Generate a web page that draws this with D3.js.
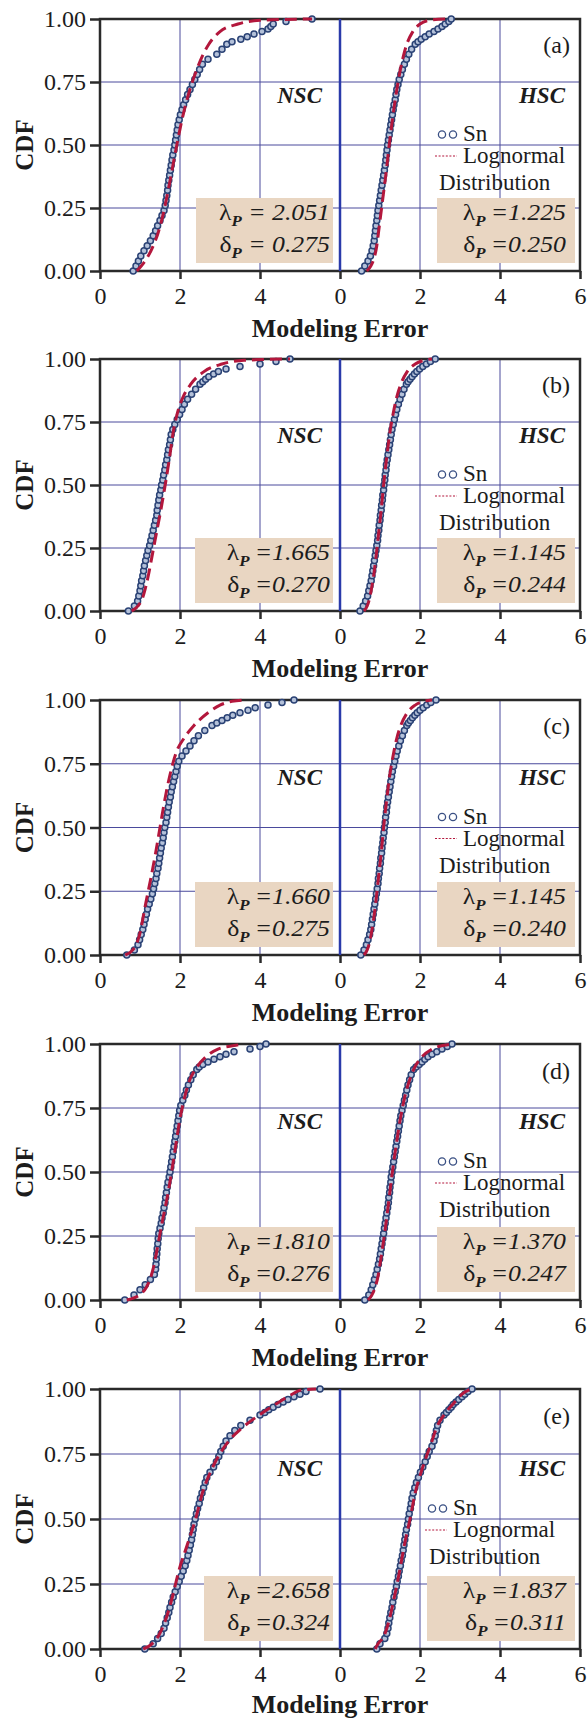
<!DOCTYPE html>
<html><head><meta charset="utf-8">
<script src="https://cdn.jsdelivr.net/npm/d3@7"></script>
<style>body{margin:0;background:#fff} svg{display:block}</style>
</head><body><svg id="c" width="588" height="1719"></svg>
<script>
// ---------------- data ----------------
const panelIds = ["a","b","c","d","e"];
const lambdaNSC = ["2.051","1.665","1.660","1.810","2.658"];
const deltaNSC  = ["0.275","0.270","0.275","0.276","0.324"];
const lambdaHSC = ["1.225","1.145","1.145","1.370","1.837"];
const deltaHSC  = ["0.250","0.244","0.240","0.247","0.311"];
const yTicks = [0, 0.25, 0.5, 0.75, 1];
const xTicksNSC = [0, 2, 4];
const xTicksHSC = [0, 2, 4, 6];

const cdfLevels = [0,0.02,0.04,0.06,0.08,0.10,0.12,0.14,0.16,0.18,0.20,0.22,0.24,0.26,0.28,0.30,0.32,0.34,0.36,0.38,0.40,0.42,0.44,0.46,0.48,0.50,0.52,0.54,0.56,0.58,0.60,0.62,0.64,0.66,0.68,0.70,0.72,0.74,0.76,0.78,0.80,0.82,0.84,0.86,0.88,0.90,0.91,0.92,0.93,0.94,0.95,0.96,0.97,0.98,0.99,1.00];

const snA_NSC = [0.83,0.90,0.96,1.02,1.10,1.18,1.26,1.33,1.39,1.44,1.50,1.55,1.60,1.63,1.65,1.67,1.69,1.70,1.72,1.74,1.76,1.78,1.80,1.82,1.85,1.87,1.89,1.91,1.93,1.95,1.98,2.01,2.05,2.09,2.14,2.19,2.25,2.31,2.37,2.43,2.49,2.56,2.70,2.92,3.05,3.17,3.30,3.52,3.68,3.85,4.05,4.20,4.27,4.33,4.65,5.30];
const snA_HSC = [0.54,0.62,0.70,0.76,0.80,0.83,0.855,0.87,0.885,0.90,0.92,0.935,0.95,0.97,0.99,1.01,1.03,1.05,1.07,1.09,1.11,1.13,1.145,1.16,1.175,1.19,1.21,1.23,1.25,1.27,1.29,1.31,1.33,1.35,1.38,1.40,1.42,1.45,1.48,1.52,1.56,1.61,1.66,1.72,1.79,1.88,1.95,2.03,2.13,2.23,2.35,2.45,2.55,2.63,2.72,2.78];
const snB_NSC = [0.71,0.86,0.94,0.97,1.00,1.02,1.04,1.07,1.09,1.11,1.14,1.17,1.20,1.24,1.27,1.30,1.33,1.36,1.39,1.42,1.43,1.45,1.47,1.49,1.52,1.54,1.57,1.59,1.62,1.64,1.67,1.69,1.71,1.74,1.76,1.78,1.82,1.87,1.93,1.99,2.05,2.11,2.19,2.29,2.39,2.50,2.57,2.64,2.72,2.84,2.96,3.15,3.50,4.00,4.40,4.75];
const snB_HSC = [0.50,0.58,0.64,0.69,0.72,0.75,0.78,0.80,0.82,0.84,0.86,0.88,0.90,0.92,0.94,0.95,0.97,0.98,1.00,1.01,1.03,1.04,1.06,1.07,1.09,1.10,1.12,1.13,1.15,1.16,1.18,1.20,1.22,1.24,1.26,1.28,1.30,1.33,1.36,1.39,1.42,1.46,1.50,1.55,1.60,1.66,1.70,1.75,1.80,1.86,1.92,1.99,2.07,2.16,2.26,2.38];
const snC_NSC = [0.67,0.86,0.95,0.99,1.03,1.07,1.10,1.13,1.16,1.19,1.23,1.27,1.31,1.34,1.37,1.40,1.42,1.45,1.47,1.49,1.51,1.53,1.56,1.58,1.60,1.62,1.65,1.67,1.69,1.71,1.73,1.76,1.78,1.81,1.84,1.87,1.90,1.93,1.97,2.05,2.15,2.25,2.35,2.46,2.62,2.80,2.92,3.05,3.18,3.32,3.50,3.70,3.88,4.20,4.55,4.85];
const snC_HSC = [0.52,0.60,0.66,0.70,0.74,0.77,0.79,0.81,0.83,0.85,0.87,0.89,0.91,0.93,0.95,0.96,0.98,0.99,1.01,1.02,1.04,1.05,1.07,1.08,1.10,1.11,1.13,1.14,1.16,1.17,1.19,1.21,1.23,1.25,1.27,1.29,1.31,1.34,1.37,1.40,1.43,1.47,1.51,1.56,1.61,1.67,1.71,1.76,1.81,1.87,1.93,2.00,2.08,2.17,2.27,2.40];
const snD_NSC = [0.62,0.85,1.00,1.13,1.26,1.36,1.39,1.40,1.41,1.42,1.43,1.445,1.455,1.47,1.50,1.53,1.55,1.58,1.60,1.625,1.64,1.66,1.68,1.70,1.73,1.75,1.77,1.79,1.81,1.83,1.85,1.87,1.89,1.91,1.93,1.95,1.97,1.99,2.02,2.07,2.12,2.16,2.21,2.27,2.33,2.42,2.48,2.57,2.70,2.85,3.00,3.15,3.35,3.75,4.00,4.15];
const snD_HSC = [0.62,0.72,0.78,0.82,0.86,0.90,0.93,0.96,0.99,1.01,1.03,1.05,1.07,1.09,1.11,1.13,1.15,1.17,1.19,1.21,1.22,1.24,1.25,1.27,1.28,1.30,1.32,1.34,1.36,1.38,1.40,1.42,1.44,1.46,1.48,1.50,1.52,1.55,1.58,1.61,1.64,1.67,1.70,1.74,1.78,1.84,1.90,1.98,2.05,2.12,2.20,2.30,2.42,2.55,2.68,2.80];
const snE_NSC = [1.12,1.33,1.44,1.53,1.60,1.64,1.68,1.72,1.75,1.79,1.83,1.88,1.93,1.98,2.03,2.08,2.13,2.17,2.20,2.23,2.26,2.29,2.31,2.33,2.35,2.38,2.41,2.44,2.48,2.51,2.55,2.59,2.63,2.67,2.75,2.84,2.91,2.97,3.02,3.08,3.15,3.25,3.37,3.52,3.75,4.00,4.12,4.22,4.33,4.45,4.58,4.70,4.85,5.00,5.15,5.50];
const snE_HSC = [0.92,1.00,1.12,1.17,1.20,1.22,1.245,1.27,1.30,1.32,1.35,1.38,1.41,1.43,1.46,1.48,1.51,1.53,1.56,1.58,1.60,1.62,1.64,1.66,1.69,1.71,1.73,1.76,1.78,1.80,1.83,1.87,1.91,1.96,2.01,2.07,2.13,2.18,2.23,2.30,2.35,2.38,2.41,2.44,2.50,2.60,2.66,2.72,2.78,2.83,2.90,2.97,3.05,3.12,3.20,3.30];

// lognormal fit curves at these CDF levels
const fitLevels = [0,0.02,0.05,0.1,0.15,0.2,0.3,0.4,0.5,0.6,0.7,0.8,0.85,0.9,0.95,0.98,0.995,1.0];
const lnA_NSC = [0.92,1.03,1.17,1.33,1.45,1.54,1.68,1.80,1.92,2.05,2.21,2.42,2.55,2.72,3.00,3.45,4.00,5.30];
const lnA_HSC = [0.67,0.77,0.85,0.92,0.96,1.00,1.08,1.16,1.23,1.31,1.40,1.51,1.58,1.67,1.82,2.00,2.25,2.67];
const lnB_NSC = [0.79,0.95,1.06,1.15,1.22,1.28,1.40,1.52,1.63,1.73,1.82,1.96,2.08,2.27,2.60,3.05,3.60,4.75];
const lnB_HSC = [0.60,0.68,0.74,0.80,0.85,0.89,0.96,1.03,1.09,1.16,1.24,1.35,1.42,1.52,1.68,1.88,2.10,2.30];
const lnC_NSC = [0.63,0.82,0.93,1.02,1.08,1.14,1.27,1.39,1.50,1.61,1.74,1.92,2.10,2.35,2.70,3.00,3.30,3.60];
const lnC_HSC = [0.60,0.68,0.74,0.80,0.85,0.89,0.96,1.03,1.09,1.16,1.24,1.35,1.42,1.52,1.68,1.88,2.10,2.30];
const lnD_NSC = [0.67,0.99,1.16,1.29,1.37,1.43,1.55,1.68,1.79,1.89,1.99,2.13,2.22,2.38,2.65,2.95,3.40,3.60];
const lnD_HSC = [0.70,0.80,0.88,0.96,1.01,1.06,1.15,1.23,1.31,1.40,1.50,1.63,1.72,1.84,2.05,2.30,2.60,2.80];
const lnE_NSC = [1.08,1.30,1.46,1.61,1.72,1.81,1.97,2.18,2.39,2.56,2.82,3.22,3.55,3.98,4.48,4.80,5.00,5.40];
const lnE_HSC = [0.88,0.95,1.10,1.21,1.29,1.36,1.49,1.61,1.75,1.88,2.07,2.30,2.41,2.60,2.87,3.05,3.20,3.30];

const snNSC = [snA_NSC, snB_NSC, snC_NSC, snD_NSC, snE_NSC];
const snHSC = [snA_HSC, snB_HSC, snC_HSC, snD_HSC, snE_HSC];
const lnNSC = [lnA_NSC, lnB_NSC, lnC_NSC, lnD_NSC, lnE_NSC];
const lnHSC = [lnA_HSC, lnB_HSC, lnC_HSC, lnD_HSC, lnE_HSC];

// ---------------- layout ----------------
const layout = [
  {top:19,   bottom:271,  legX:437, boxL:196, spaced:true},
  {top:359,  bottom:611,  legX:437, boxL:195, spaced:false},
  {top:700,  bottom:955,  legX:437, boxL:195, spaced:false},
  {top:1044, bottom:1300, legX:437, boxL:195, spaced:false},
  {top:1389, bottom:1649, legX:427, boxL:204, spaced:false}
];
const FONT = "'Liberation Serif','Times New Roman',Times,serif";
const INK = "#1c1c1c";
const FRAME = "#2a2a2a";
const GRID = "#4a4a9c";
const DIVIDER = "#2a3aaa";
const BOX = "#e9d6c2";
const MARK_STROKE = "#2a4275";
const MARK_FILL = "#b4c1d9";
const FIT = "#b3173c";

const svg = d3.select("#c");
const xL = d3.scaleLinear().domain([0, 6]).range([100, 340]);
const xR = d3.scaleLinear().domain([0, 6]).range([340, 580]);

function boxText(g, xr, yb, sym, val, spaced) {
  const t = g.append("text")
    .attr("transform", `translate(${xr},${yb}) scale(1.12,1)`)
    .attr("text-anchor", "end").attr("font-family", FONT)
    .attr("font-size", 23).attr("fill", INK);
  t.append("tspan").attr("font-style", "normal").text(sym);
  t.append("tspan").attr("font-size", 15).attr("font-weight", "bold")
    .attr("font-style", "italic").attr("dy", 6).text("P");
  t.append("tspan").attr("font-style", "italic").attr("dy", -6)
    .text(spaced ? "\u00a0= " + val : "\u2009=" + val);
}

layout.forEach((L, i) => {
  const T = L.top, B = L.bottom, h = B - T;
  const y = d3.scaleLinear().domain([0, 1]).range([B, T]);
  const g = svg.append("g");

  // grid
  g.selectAll(".hg").data(yTicks.filter(v => v > 0 && v < 1)).join("line")
    .attr("x1", xL(0)).attr("x2", xR(6)).attr("y1", d => y(d)).attr("y2", d => y(d))
    .attr("stroke", GRID).attr("stroke-width", 1);
  [xL, xR].forEach(xs => {
    g.append("g").selectAll("line").data([2, 4]).join("line")
      .attr("x1", d => xs(d)).attr("x2", d => xs(d)).attr("y1", T).attr("y2", B)
      .attr("stroke", GRID).attr("stroke-width", 1);
  });

  // parameter boxes
  const boxTop = B - 73, boxBot = B - 8;
  g.append("rect").attr("x", L.boxL).attr("y", boxTop).attr("width", 333 - L.boxL)
    .attr("height", boxBot - boxTop).attr("fill", BOX);
  g.append("rect").attr("x", L.legX).attr("y", boxTop).attr("width", 575 - L.legX)
    .attr("height", boxBot - boxTop).attr("fill", BOX);

  // frame + divider
  g.append("rect").attr("x", xL(0)).attr("y", T).attr("width", xR(6) - xL(0)).attr("height", h)
    .attr("fill", "none").attr("stroke", FRAME).attr("stroke-width", 2.5);
  g.append("line").attr("x1", xR(0)).attr("x2", xR(0)).attr("y1", T).attr("y2", B)
    .attr("stroke", DIVIDER).attr("stroke-width", 2.5);

  // axes
  const styleAxis = sel => {
    sel.select(".domain").remove();
    sel.selectAll(".tick line").attr("stroke", FRAME).attr("stroke-width", 2.5);
    sel.selectAll(".tick text").attr("font-family", FONT).attr("font-size", 24).attr("fill", INK);
  };
  g.append("g").attr("transform", `translate(${xL(0)},0)`)
    .call(d3.axisLeft(y).tickValues(yTicks).tickFormat(d3.format(".2f")).tickSize(10).tickPadding(4))
    .call(styleAxis);
  g.append("g").attr("transform", `translate(0,${B})`)
    .call(d3.axisBottom(xL).tickValues(xTicksNSC).tickFormat(d3.format("d")).tickSize(8).tickPadding(8))
    .call(styleAxis);
  g.append("g").attr("transform", `translate(0,${B})`)
    .call(d3.axisBottom(xR).tickValues(xTicksHSC).tickFormat(d3.format("d")).tickSize(8).tickPadding(8))
    .call(styleAxis);

  // axis titles
  g.append("text").attr("transform", `translate(33,${(T + B) / 2}) rotate(-90)`)
    .attr("text-anchor", "middle").attr("font-family", FONT).attr("font-weight", "bold")
    .attr("font-size", 25).attr("fill", INK).text("CDF");
  g.append("text").attr("x", 340).attr("y", Math.min(B + 66, 1713)).attr("text-anchor", "middle")
    .attr("font-family", FONT).attr("font-weight", "bold").attr("font-size", 26)
    .attr("fill", INK).text("Modeling Error");

  // data: empirical CDF markers + lognormal fit
  const halves = [
    {xs: xL, sn: snNSC[i], ln: lnNSC[i]},
    {xs: xR, sn: snHSC[i], ln: lnHSC[i]}
  ];
  halves.forEach(H => {
    const pts = d3.zip(H.sn, cdfLevels);
    g.append("g").selectAll("circle").data(pts).join("circle")
      .attr("cx", d => H.xs(d[0])).attr("cy", d => y(d[1])).attr("r", 3.0)
      .attr("fill", MARK_FILL).attr("stroke", MARK_STROKE).attr("stroke-width", 1.5);
  });
  halves.forEach(H => {
    const fit = d3.zip(H.ln, fitLevels);
    g.append("path").datum(fit)
      .attr("d", d3.line().x(d => H.xs(d[0])).y(d => y(d[1])).curve(d3.curveMonotoneX))
      .attr("fill", "none").attr("stroke", FIT).attr("stroke-width", 3)
      .attr("stroke-dasharray", "12,6");
  });

  // panel labels
  g.append("text").attr("x", 570).attr("y", T + 0.135 * h).attr("text-anchor", "end")
    .attr("font-family", FONT).attr("font-size", 24).attr("fill", INK).text("(" + panelIds[i] + ")");
  g.append("text").attr("x", 322).attr("y", T + 0.333 * h).attr("text-anchor", "end")
    .attr("font-family", FONT).attr("font-size", 23).attr("font-weight", "bold")
    .attr("font-style", "italic").attr("fill", INK).text("NSC");
  g.append("text").attr("x", 565).attr("y", T + 0.333 * h).attr("text-anchor", "end")
    .attr("font-family", FONT).attr("font-size", 23).attr("font-weight", "bold")
    .attr("font-style", "italic").attr("fill", INK).text("HSC");

  // legend
  const y5 = y(0.5);
  const lx = L.legX;
  g.append("g").selectAll("circle").data([0, 1]).join("circle")
    .attr("cx", k => lx + 5 + k * 11).attr("cy", y5 - 10.5).attr("r", 3.6)
    .attr("fill", "#fff").attr("stroke", "#3a5084").attr("stroke-width", 1.3);
  g.append("text").attr("x", lx + 26).attr("y", y5 - 4).attr("font-family", FONT)
    .attr("font-size", 23).attr("fill", INK).text("Sn");
  g.append("line").attr("x1", lx - 2).attr("x2", lx + 20).attr("y1", y5 + 11).attr("y2", y5 + 11)
    .attr("stroke", FIT).attr("stroke-width", 1.2).attr("stroke-dasharray", "2,1.6");
  g.append("text").attr("x", lx + 26).attr("y", y5 + 18).attr("font-family", FONT)
    .attr("font-size", 23).attr("fill", INK).text("Lognormal");
  g.append("text").attr("x", lx + 2).attr("y", y5 + 45).attr("font-family", FONT)
    .attr("font-size", 23).attr("fill", INK).text("Distribution");

  // box texts
  boxText(g, 330, B - 51, "\u03bb", lambdaNSC[i], L.spaced);
  boxText(g, 330, B - 19, "\u03b4", deltaNSC[i], L.spaced);
  boxText(g, 566, B - 51, "\u03bb", lambdaHSC[i], false);
  boxText(g, 566, B - 19, "\u03b4", deltaHSC[i], false);
});
</script></body></html>
